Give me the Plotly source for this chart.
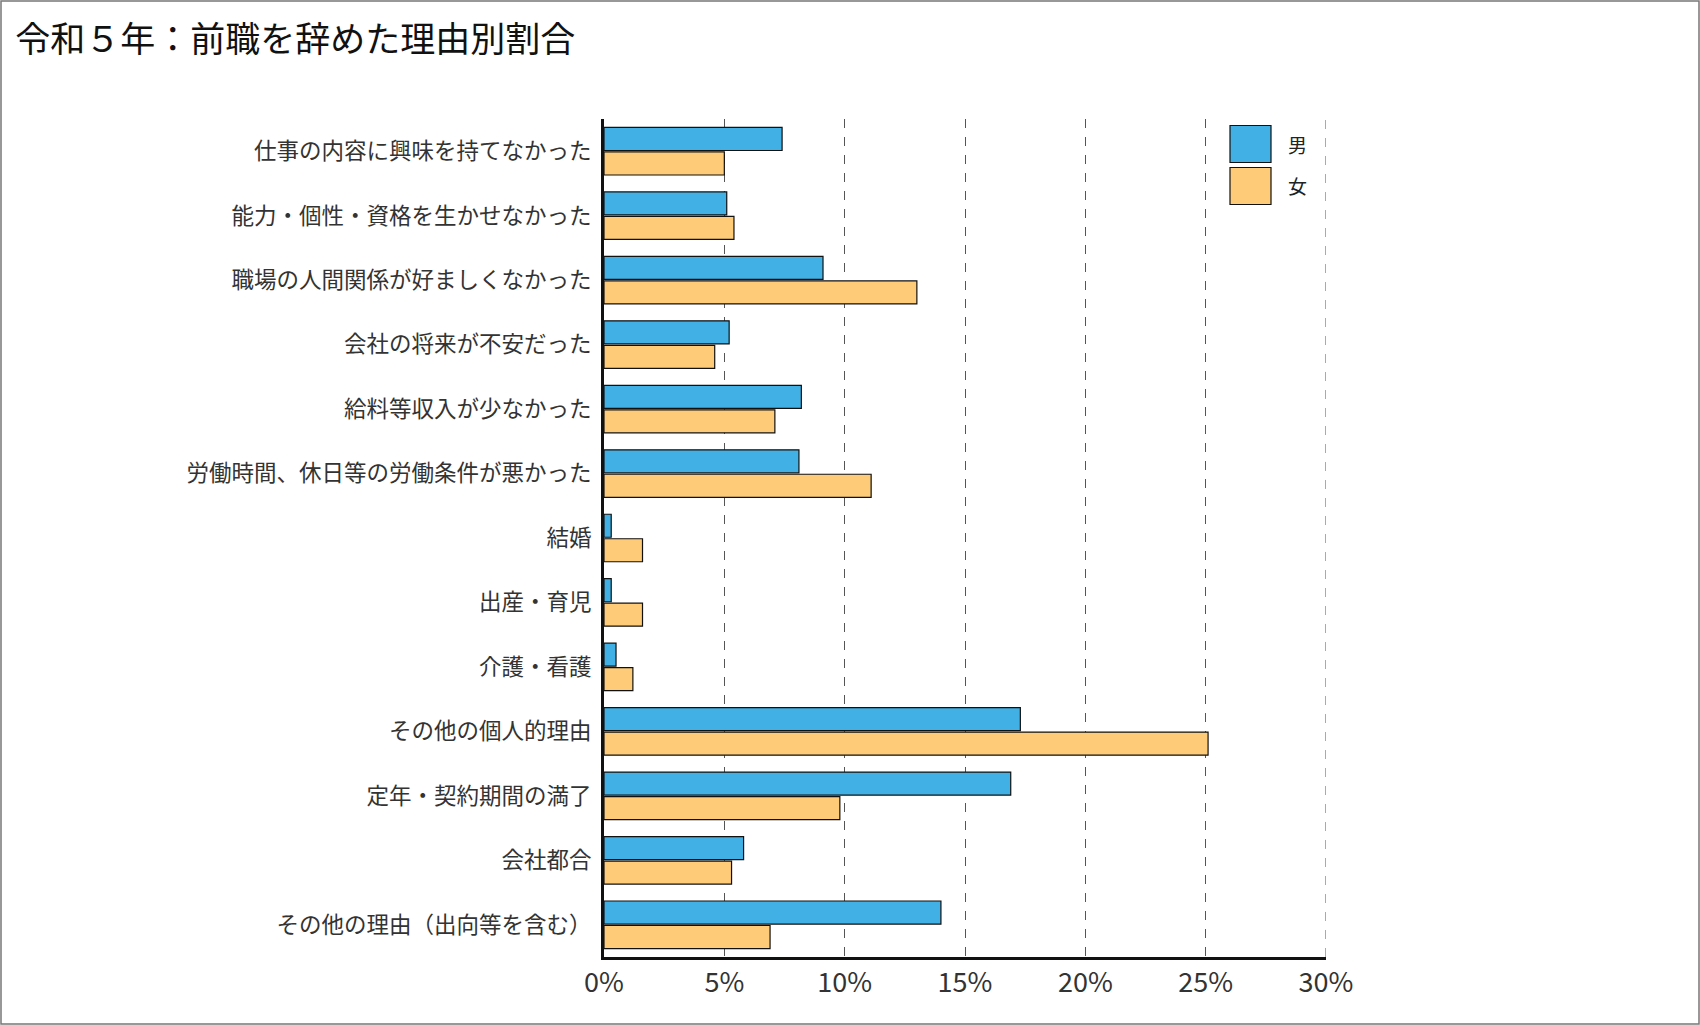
import plotly.graph_objects as go

categories = [
    "仕事の内容に興味を持てなかった",
    "能力・個性・資格を生かせなかった",
    "職場の人間関係が好ましくなかった",
    "会社の将来が不安だった",
    "給料等収入が少なかった",
    "労働時間、休日等の労働条件が悪かった",
    "結婚",
    "出産・育児",
    "介護・看護",
    "その他の個人的理由",
    "定年・契約期間の満了",
    "会社都合",
    "その他の理由（出向等を含む）",
]
male = [7.4, 5.1, 9.1, 5.2, 8.2, 8.1, 0.3, 0.3, 0.5, 17.3, 16.9, 5.8, 14.0]
female = [5.0, 5.4, 13.0, 4.6, 7.1, 11.1, 1.6, 1.6, 1.2, 25.1, 9.8, 5.3, 6.9]
series_names = ["男", "女"]
colors = ["#41b0e4", "#fecc78"]
x_ticks = [0, 5, 10, 15, 20, 25, 30]
x_tick_labels = ["0%", "5%", "10%", "15%", "20%", "25%", "30%"]
x_max = 30

FONT = "Noto Sans CJK JP"
W, H = 1700, 1025
ML, MR, MT, MB = 604, 374, 119, 68
PW, PH = W - ML - MR, H - MT - MB

fig = go.Figure()
for name, vals, col in zip(series_names, [male, female], colors):
    fig.add_trace(go.Bar(
        y=categories, x=vals, name=name, orientation="h",
        marker=dict(color=col, line=dict(color="#111111", width=1.2)),
        showlegend=False,
    ))

fig.update_layout(
    width=W, height=H,
    paper_bgcolor="white", plot_bgcolor="white",
    margin=dict(l=ML, r=MR, t=MT, b=MB),
    barmode="group", bargap=0.24, bargroupgap=0.06,
    font=dict(family=FONT, color="#333333", size=22),
    title=dict(text="令和５年：前職を辞めた理由別割合", x=0.009, xanchor="left",
               y=0.961, yanchor="middle",
               font=dict(family=FONT, size=35, color="#111111")),
)
fig.update_xaxes(
    range=[0, x_max], tickvals=x_ticks, ticktext=x_tick_labels,
    showgrid=True, gridcolor="#555555", griddash="dash", gridwidth=1,
    showline=True, linecolor="#111111", linewidth=2.5,
    zeroline=False, ticks="", tickfont=dict(size=27, color="#333333"),
)
fig.update_yaxes(
    autorange="reversed", showline=True, linecolor="#111111", linewidth=3,
    ticks="", ticklabelstandoff=5, tickfont=dict(size=22.5, color="#333333"),
    showgrid=False,
)

# gridline at the right end of the axis (hidden by plotly at the plot edge)
fig.add_shape(type="line", xref="x", yref="paper", x0=x_max, x1=x_max, y0=0, y1=1,
              line=dict(color="#555555", width=1, dash="dash"))

# custom legend (large swatches)
legend_y = [1 - (144 - MT) / PH, 1 - (186 - MT) / PH]
half = 18.5 / PH
for name, col, yy in zip(series_names, colors, legend_y):
    fig.add_shape(type="rect", xref="paper", yref="paper",
                  x0=(1230 - ML) / PW, x1=(1271 - ML) / PW,
                  y0=yy - half, y1=yy + half,
                  fillcolor=col, line=dict(color="#111111", width=1.2))
    fig.add_annotation(text=name, xref="paper", yref="paper",
                       x=(1286 - ML) / PW, y=yy, xanchor="left",
                       yanchor="middle", showarrow=False,
                       font=dict(family=FONT, size=19, color="#222222"))

# outer border
fig.add_shape(type="rect", xref="paper", yref="paper",
              x0=(1 - ML) / PW, x1=(W - 1 - ML) / PW,
              y0=-(MB - 1) / PH, y1=1 + (MT - 1) / PH,
              line=dict(color="#777777", width=1.5), fillcolor="rgba(0,0,0,0)")

fig.write_html("out.html", config={"displayModeBar": False},
               post_script="document.body.style.margin='0';document.body.style.overflow='hidden';")
